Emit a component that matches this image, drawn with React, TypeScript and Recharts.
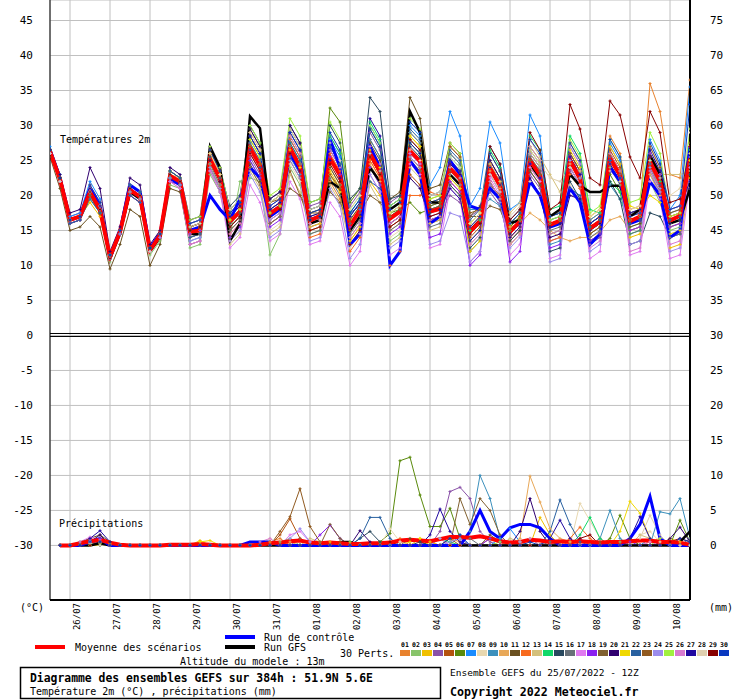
import React from "react";
import { LineChart, Line, XAxis, YAxis, CartesianGrid, ReferenceLine } from "recharts";

const MONO = "'DejaVu Sans Mono', monospace";

// forecast hours, run of 25/07/2022 12Z
const hours = [0, 6, 12, 18, 24, 30, 36, 42, 48, 54, 60, 66, 72, 78, 84, 90, 96, 102, 108, 114, 120, 126, 132, 138, 144, 150, 156, 162, 168, 174, 180, 186, 192, 198, 204, 210, 216, 222, 228, 234, 240, 246, 252, 258, 264, 270, 276, 282, 288, 294, 300, 306, 312, 318, 324, 330, 336, 342, 348, 354, 360, 366, 372, 378, 384];
const dayTicks = [12, 36, 60, 84, 108, 132, 156, 180, 204, 228, 252, 276, 300, 324, 348, 372];
const dayLabels = ["26/07", "27/07", "28/07", "29/07", "30/07", "31/07", "01/08", "02/08", "03/08", "04/08", "05/08", "06/08", "07/08", "08/08", "09/08", "10/08"];
const yTicks = [-30, -25, -20, -15, -10, -5, 0, 5, 10, 15, 20, 25, 30, 35, 40, 45];

const memberColors = ["#E8822E", "#88C46A", "#F0C000", "#8A52A8", "#B4520E", "#5A8A0C", "#1A8CFF", "#E8D8B0", "#3C90BC", "#E8A858", "#6A5020", "#F86A1E", "#D4C07C", "#10D868", "#28485E", "#687078", "#E07AF0", "#8A20F0", "#806030", "#300070", "#F0D800", "#2860A0", "#905A20", "#9C8CEC", "#A0F040", "#D87AD0", "#2008A0", "#E0D0B0", "#880000", "#0838C0"];

// 2m temperature (°C), one value per 6h step
const t01 = [26.5,22.5, 16.5,17,21.5,19, 11.5,15,21.5,20.5, 12.5,15,23.5,22.5, 15.5,16,26.5,23.5, 17.5,19,29,26.5, 18,19,27,24.5, 15,15.5,22,19.5, 13.5,15.5,25,22.5, 16,17,29,27.5, 19,19.5,27,25.5, 15,16.5,25,22.5, 14,15.5,25,23, 16,16.5,26,23.5, 16.5,17.5,28.5,26, 18,18.5,36,32, 23,22.5,36.5];
const t02 = [26,22, 16,16.5,19.5,17.5, 10.5,14.5,20,19, 11.5,13.5,21.5,21, 12.5,13,23,20.5, 14,22,22.5,22, 11.5,14.5,24,21.5, 14.5,15,24,21.5, 14,16,24,21.5, 13.5,14.5,25,23.5, 16,16.5,22.5,21, 13.5,15,23,20.5, 15,16.5,26,24, 17,17.5,24,21.5, 15,16,24,21.5, 15.5,16,22,19, 15,15.5,23];
const t03 = [26.5,22, 16.5,17,19,17, 11,14.5,20.5,19.5, 12,14,22.5,21.5, 15,15.5,24.5,21.5, 16.5,18,27,24.5, 19,20,28.5,26, 17.5,18,23.5,21, 16.5,18.5,22,20, 18,19,28.5,27, 19.5,20,25,23.5, 16,17.5,22,19.5, 15.5,17,27,25, 16.5,17,27.5,25, 16,17,24.5,22, 14,14.5,26,23, 12.5,13,22.5];
const t04 = [26,22.5, 17,17.5,21,18.5, 11.5,15,21,20, 12.5,14.5,22,21.5, 16,16.5,25.5,22.5, 18,19.5,25.5,23, 18.5,19.5,28,25.5, 18.5,19,28.5,26, 18.5,20.5,29,26.5, 19,20,25,23.5, 17,17.5,20,19, 17,18,20.5,18.5, 13,14.5,23,21, 13.5,14,23.5,21, 13,14,27,24.5, 17,17.5,25.5,22.5, 16,16.5,24];
const t05 = [26.5,22.5, 16,16.5,20,17.5, 11,14.5,20,19, 12,14,23,22, 14,14.5,26,23, 15,16.5,28.5,26, 16,17,26,23.5, 16,16.5,27,24.5, 15,17,28,25.5, 15.5,16.5,23,21.5, 16.5,17,26,24.5, 14,15.5,26,23.5, 13.5,15,24,22, 17,17.5,26,23.5, 16,17,26.5,24, 16,16.5,24,21, 17,17.5,27];
const t06 = [26.5,22.5, 16.5,17,21,18.5, 11.5,15,21,20, 12.5,14.5,23.5,22.5, 15.5,16,26.5,23.5, 17.5,19,29.5,27, 19,20,29.5,27, 18,18.5,32.5,30.5, 19,21,29.5,27, 17.5,18,19,17.5, 18,18.5,24,22.5, 15,16.5,24.5,22, 15.5,17,26.5,24.5, 14.5,15,24,21.5, 15.5,16.5,23,20.5, 15,15.5,24,21, 15.5,16,25];
const t07 = [27,23, 17,17.5,22,19.5, 11.5,15,21.5,20.5, 12.5,14.5,23,22, 16,16.5,25,22, 16,17.5,27.5,25, 17.5,18.5,28,25.5, 17,17.5,28,25.5, 16,18,30,27.5, 18.5,19.5,30,28.5, 21.5,24,32,28.5, 18.5,21,30.5,27.5, 18,19,31.5,28.5, 16.5,17,27,24.5, 15,16,27.5,25, 17.5,18,28,25, 18,20,35.5];
const t08 = [26,22, 16.5,17,20.5,18, 11,15,21,20, 12,14.5,22.5,22, 14.5,15,24.5,21.5, 13.5,15,24,21.5, 15,16,24.5,22, 15.5,16,24,21.5, 12.5,14.5,25.5,23, 14,15,27.5,26, 20,20.5,23,21.5, 16.5,18,24,21.5, 15,16.5,22,20, 16,16.5,21.5,19.5, 17,18,26,23.5, 16.5,17,27,24, 20,21,29];
const t09 = [26.5,22.5, 16.5,17,20,17.5, 11,14.5,20.5,19.5, 12,14.5,22.5,21.5, 13.5,14,23.5,20.5, 15.5,17,25,22.5, 16.5,17.5,25.5,23, 16.5,17,27,24.5, 17,19,28,25.5, 17,18,29,27.5, 18,18.5,26,24.5, 18,18,19.5,18.5, 16,17.5,24.5,22.5, 13,13.5,24,21.5, 16.5,17.5,21.5,19.5, 16,16.5,23,20.5, 17.5,18,21];
const t10 = [26,22, 16.5,17,20.5,18, 11,15,20.5,19.5, 12,14.5,23,22.5, 16,16.5,25.5,22.5, 17,18.5,26,23.5, 18,19,27,24.5, 16,16.5,23,20.5, 14,16,24.5,22, 15,16,25.5,24, 16,16.5,24.5,23, 14.5,16,23.5,21, 15.5,16,17.5,16.5, 15,14,13.5,14, 14,14.8,16.5,17, 15,15.5,23,20, 15.5,16,24.5];
const t11 = [25.5,21, 15,15.5,17,15.5, 9.5,13,18,17, 10,13,21,20.5, 13,13.5,24,21, 16,17.5,24.5,22, 17,18,25,22.5, 17.5,18,24,21.5, 16.5,18.5,27.5,25, 19.5,20.5,34,31, 21,21.5,27.5,26, 17,18.5,22,19.5, 16,17.5,25.5,23.5, 15.5,16,25.5,23, 14.5,15.5,24.5,22, 15.5,16,25,22, 16,16.5,26];
const t12 = [26.5,22.5, 16.5,17,20.5,18, 11.5,15,21,20, 12,14.5,23,22, 14.5,15,26,23, 14.5,16,27,24.5, 16,17,28,25.5, 14,14.5,26,23.5, 12,14,25,22.5, 10,12,20,20, 20.5,20,22,20.5, 15.5,17,24.5,22, 14,15.5,26,24, 13.5,14,23,21, 15,16,26,23.5, 16.5,17,25.5,22.5, 17,17.5,25];
const t13 = [26,22, 16,16.5,20,17.5, 11,14.5,20.5,19.5, 12,14,22.5,21.5, 14,14.5,24,21, 13,14.5,23.5,21, 14.5,15.5,23,20.5, 15,15.5,21.5,19, 13,15,21.5,19, 13,14,24,22.5, 15,15.5,21.5,20, 13,14.5,24.5,22, 17.5,19,28,25.5, 23,20.5,24.5,22.5, 17,18,25,22.5, 17,17.5,24.5,23, 23,23,23.5];
const t14 = [26.5,22.5, 16.5,17,20.5,18, 11,15,21,20, 12.5,14.5,23,22, 15,15.5,25,22, 16.5,18,28,25.5, 17.5,18.5,27.5,25, 16.5,17,28.5,26, 17.5,19.5,30.5,28, 17.5,18.5,27.5,26, 18.5,19,25.5,24, 15,16.5,26.5,24, 15,16.5,28.5,26.5, 18,18.5,28.5,26, 18,17.5,22,20.5, 14.5,15,25,22, 16,16.5,26.5];
const t15 = [26,22, 16,16.5,20,17.5, 11,14.5,20.5,19.5, 12,14.5,23,22, 15.5,16,25.5,22.5, 18.5,20,30,27.5, 19.5,20.5,30,27.5, 19,19.5,30,27.5, 19.5,21,34,32, 19.5,20,27,25.5, 17.5,18,21.5,20, 12.5,14,21.5,19, 13.5,15,23.5,21.5, 12,12.5,22,19.5, 13.5,14.5,22,19.5, 13,13.5,17.5,17, 14,14.5,23];
const t16 = [26.5,22.5, 16.5,17,20,17.5, 11,14.5,20.5,19.5, 12,14,22.5,21.5, 14,14.5,24.5,21.5, 15,16.5,27.5,25, 16,17,27,24.5, 14.5,15,22.5,20, 14.5,16.5,26,23.5, 15,16,28,26.5, 15.5,16,23,21.5, 12,13.5,25,22.5, 14.5,16,25.5,23.5, 15,15.5,26,23.5, 14,15,25.5,23, 14.5,15,23.5,20.5, 14,14.5,24];
const t17 = [26,22, 16.5,17,21,18.5, 11,15,21,20, 12,14,22,21, 13,13.5,23.5,20.5, 12.5,14,21.5,19, 13.5,14.5,22,19.5, 13,13.5,19,17, 10,12,23,20.5, 11.5,12.5,24.5,23, 12.5,13,21,19.5, 10.5,12,22.5,20, 11.5,13,24,22, 11,11.5,24,21.5, 11,12,25,22.5, 11.5,12,22,19.5, 11,11.5,22];
const t18 = [26,22, 16,16.5,20.5,18, 11,14.5,20,19, 12,14,22,21.5, 14.5,15,25,22, 14,15.5,25,22.5, 15.5,16.5,26,23.5, 15.5,16,25.5,23, 15.5,17.5,24,21.5, 14.5,15.5,26,24.5, 14,14.5,22,20.5, 10,11.5,23,20.5, 10.5,12,24.5,22.5, 12.5,13,25.5,23, 13.5,14.5,25,22.5, 15,15.5,26,23, 15.5,16,27];
const t19 = [26.5,22.5, 16.5,17,20,17.5, 11,14.5,20.5,19.5, 12,14.5,22.5,21.5, 15.5,16,24,21, 17,18.5,24,21.5, 17.5,18.5,21,20, 16.5,17,20.5,19, 16,17.5,20,19, 17,18,25.5,24, 18,18.5,23.5,22, 17,17,18.5,18, 14.5,16,23.5,21.5, 16,16.5,25,22.5, 15.5,16.5,26,23.5, 16.5,17,24,21, 16.5,17,25];
const t20 = [26.5,23, 17.5,18,24,21, 12,15.5,22.5,21.5, 13,15,24,23, 16.5,17,27,24, 18,19.5,29.5,27, 19.5,20.5,30,27.5, 17,17.5,26.5,24, 15,17,26,23.5, 16,17,22.5,21, 16.5,17,24.5,23, 14.5,16,25,22.5, 14.5,16,22.5,20, 14,14.5,20,19.5, 15,16,25,22.5, 16,16.5,25.5,22.5, 16,16.5,21];
const t21 = [26.5,22.5, 16.5,17,21,18.5, 11.5,15,21,20, 12.5,14.5,23,22, 15,15.5,26,23, 16.5,18,28,25.5, 17.5,18.5,26.5,24, 15.5,16,23,20.5, 13.5,15.5,26.5,24, 17.5,18.5,28.5,27, 19,19.5,22.5,21, 12,13.5,24,21.5, 13,14.5,26,24, 17,17.5,26.5,24, 17,18,27,24.5, 18.5,18,20,19, 14.5,15,25];
const t22 = [26,22, 16,16.5,19.5,17.5, 11,14.5,20,19, 12,14,22.5,21.5, 14,14.5,25,22, 17.5,19,26.5,24, 18,19,27.5,25, 18,18.5,27,24.5, 17.5,18.5,22,21, 18.5,19.5,29.5,28, 20,20.5,26.5,25, 16.5,18,27,24.5, 16.5,18,25,23, 17,17.5,21,20, 15.5,16.5,25,22.5, 16,16.5,24.5,21.5, 16.5,17,24.5];
const t23 = [26.5,22.5, 16.5,17,20.5,18, 11.5,15,21,20, 12.5,14.5,23.5,22.5, 15.5,16,26.5,23.5, 15.5,17,27,24.5, 19,19.5,23.5,20, 17.5,17.5,23,21, 15,17,25.5,23, 17,18,25,23.5, 18.5,19,27,25.5, 17.5,18,21.5,20, 15,16.5,25,23, 16,16.5,26,23.5, 14.5,15.5,26,23.5, 17.5,18,27,24, 17.5,18,27.5];
const t24 = [26,22, 16.5,17,20.5,18, 11,15,21,20, 12,14.5,22.5,21.5, 13.5,14,24,21, 13.5,15,23,20.5, 14,15,25,22.5, 13.5,14,21,18.5, 11,13,23,20.5, 12.5,13.5,25.5,24, 13,13.5,17.5,17, 10.5,12,21.5,19, 12.5,14,26,24, 10.5,11,25,22.5, 12,13,24.5,22, 13,13.5,24,21, 12,12.5,25.5];
const t25 = [26.5,22.5, 16.5,17,21,18.5, 11.5,15,21.5,20.5, 12.5,14.5,23.5,22.5, 16.5,17,27,24, 18,19.5,30,27.5, 20,21,31,28.5, 19,19.5,30.5,28, 18,20,30,27.5, 18.5,19.5,31,29.5, 19.5,20,27.5,26, 16,17.5,26,23.5, 16,17.5,27,25, 16.5,17,28,25.5, 17.5,18.5,28,25.5, 19,19.5,29,26, 17,17.5,29.5];
const t26 = [26,22, 16.5,17,21,18.5, 11,14.5,20.5,19.5, 12,14,22,21, 13,13.5,23.5,20.5, 14.5,16,26,23.5, 16.5,17.5,28.5,26, 16,16.5,26.5,24, 14,16,27,24.5, 16,17,26,24.5, 16.5,17,24,22.5, 13,14.5,22,19.5, 13,14.5,27,25, 14.5,15,27,24.5, 12.5,13.5,26,23.5, 12,12.5,23.5,20.5, 13,13.5,24];
const t27 = [26.5,22.5, 16.5,17,21,18.5, 11.5,15,21,20, 12.5,14.5,23,22, 15,15.5,25,22, 17,18.5,28.5,26, 18,19,29,26.5, 16.5,17,25,22.5, 17,19,31,28.5, 18,19,27.5,26, 18,18,21,19.5, 13.5,15,24,21.5, 14,15.5,24.5,22.5, 15.5,16,25.5,23, 16,17,24.5,22, 17.5,18,26.5,23.5, 18,18.5,22];
const t28 = [26,22, 16.5,17,20.5,18, 11,15,21,20, 12,14.5,23,22, 15.5,16,26,23, 18,19.5,29,26.5, 19,20,29.5,27, 18,18.5,27.5,25, 18,20,26,23.5, 17.5,18.5,26.5,25, 20,20.5,25.5,24, 16,17.5,23,20.5, 17,18.5,26.5,24.5, 22.5,22,24,23.5, 17,18,23.5,22, 18,18.5,25,22.5, 18,18.5,26];
const t29 = [26.5,22.5, 16.5,17,20.5,18, 11,15,21,20, 12.5,14.5,23,22, 15,15.5,25,22, 15.5,17,26,23.5, 17,18,26,23.5, 15,15.5,24.5,22, 13,15,25.5,23, 15.5,16.5,28,26.5, 17,17.5,25,23.5, 14.5,16,27,24.5, 16.5,18,29,26.5, 18,19,33,29.5, 22.5,21.5,33.5,31.5, 25.5,22.5,32,29, 19,19.5,27];
const t30 = [26.5,22.5, 16.5,17,21.5,19, 11.5,15,21.5,20.5, 12.5,14.5,23.5,22.5, 16,16.5,26.5,23.5, 17.5,19,28.5,26, 18.5,19.5,29,26.5, 17.5,18,29,26.5, 17.5,19.5,29.5,27, 18,19,30.5,29, 19,19.5,25,23.5, 15.5,17,26,23.5, 16,17.5,28,26, 17,17.5,27.5,25, 16,17,28,25.5, 17,17.5,27.5,24.5, 18,18.5,33];
const tControl = [26.5,22.5, 16.5,17,21,18.5, 11,15,21.5,20.5, 12.5,14.5,22.5,21.5, 15,15.5,20,18, 16.5,19.5,24,22.5, 17,18,26,23.5, 16.5,17,28,24, 13,14.5,27,24, 10,12,25,23, 16,17,25,23, 18.5,18,21,19.5, 15,16,22,20, 15.5,16,21,19, 13,14.5,24,22, 16,16.5,22,20, 14,15,27];
const tGfs = [26.5,22.5, 16.5,17,20.5,18, 11,14.5,20.5,19.5, 12,14,22.5,22, 14.5,14.5,27,24, 13.5,16,31.3,29.6, 17.5,18.5,26,24, 16,16.5,22,21, 15,17,24,22, 18,19,32,29, 19,19,23,21.5, 15,16.5,24,21.5, 16,16.5,24.5,22.5, 17,18,23,21.4, 20.5,20.5,21.4,21.4, 17,18,25.7,23, 16,16.5,21];
const tMean = [26.3,22.3, 16.5,17.0,20.5,18.0, 11.2,14.8,20.8,19.8, 12.2,14.3,22.8,22.0, 14.8,15.0,25.2,22.4, 16.3,17.7,26.8,24.3, 17.4,18.4,26.8,24.1, 16.4,17.1,25.3,22.9, 15.7,17.9,26.0,23.4, 16.7,17.7,26.4,24.9, 17.7,18.1,23.9,22.4, 14.8,16.3,23.9,21.4, 14.8,16.3,25.0,22.9, 15.8,16.4,25.0,22.4, 15.3,16.3,25.3,22.9, 16.3,17.0,24.8,22.0, 16.4,17.1,25.3];

// 6h precipitation (mm), from +6h to +384h
const p01 = [0,0,0,.5,1,0,0,0, 0,0,0,0,0,0,0,0, 0,0,0,0,0,.5,1,0, 0,0,0,0,0,0,0,0, 0,0,0,0,0,.5,0,1, .5,0,0,0,0,0,0,0, 0,0,0,.5,0,0,1,0, 0,0,0,.5,1,0,0,0];
const p02 = [0,0,0,.3,.5,0,0,0, 0,0,0,0,0,0,0,0, 0,0,0,0,0,0,.5,1, 0,0,0,0,0,0,0,0, .5,0,0,0,0,0,1,0, 0,0,0,0,0,0,.5,1, 0,0,0,0,0,0,0,0, .5,0,0,0,0,0,0,0];
const p03 = [0,0,0,0,.5,.3,0,0, 0,0,0,0,0,0,.7,0, 0,0,0,0,0,0,0,0, 0,0,0,.5,0,0,0,0, 0,0,0,0,1,.5,0,0, 0,0,0,0,0,0,0,0, 4,1.5,0,0,0,0,0,0, 0,0,0,0,0,1,.5,0];
const p04 = [0,0,0,1,.5,0,0,0, 0,0,0,0,0,0,0,0, 0,0,0,0,0,0,0,0, 1,0,0,0,0,0,0,0, 0,0,0,0,0,0,2,7.7, 8.3,6.7,2,.5,0,0,0,0, 0,0,0,0,1,0,0,0, 0,0,0,0,0,0,0,0];
const p05 = [0,0,0,0,1,0,0,0, 0,0,0,0,0,0,0,0, 0,0,0,0,0,0,1.5,3.8, 1,0,0,0,.5,0,0,0, 0,0,0,0,0,0,0,0, 0,0,0,1,.5,0,0,0, 0,0,0,0,0,0,0,0, 0,1,0,0,0,0,0,0];
const p06 = [0,0,0,0,.5,0,0,0, 0,0,0,0,0,0,0,0, 0,0,0,0,0,0,0,0, 0,0,0,0,0,0,0,0, .5,1.7,12.1,12.6,7.2,2.7,2.7,5.3, 1,0,0,0,0,0,0,0, 0,0,0,0,0,0,0,1, 4.3,1,0,0,0,0,3.6,.5];
const p07 = [0,0,0,.5,0,0,0,0, 0,0,0,0,0,0,0,0, 0,0,0,0,0,0,0,0, 0,0,0,0,0,0,0,0, 0,0,0,0,0,0,0,0, 0,0,0,0,1,2.4,.5,0, 0,0,0,0,0,0,0,0, 0,0,0,1,0,0,0,0];
const p08 = [0,0,0,0,0,0,0,0, 0,0,0,0,0,0,0,0, 0,0,0,0,0,1,0,0, 0,0,0,0,0,0,0,0, 0,2.4,.5,0,0,0,0,0, 0,0,0,0,0,0,0,0, 0,0,0,0,6,3.5,1,0, 0,0,1.5,2,.5,0,0,0];
const p09 = [0,0,0,0,.5,0,0,0, 0,0,0,0,0,0,0,0, 0,0,0,0,0,0,0,0, 0,0,0,0,0,0,0,0, 0,0,0,0,0,0,0,0, 0,2,10,6.7,1,0,0,0, 0,0,0,0,0,0,1,5, 1,0,0,0,4.8,4.5,6.7,1];
const p10 = [0,0,0,.5,0,0,0,0, 0,0,0,0,0,0,0,0, 0,0,0,0,0,0,0,.5, 0,0,0,0,0,0,0,0, 0,0,0,0,0,0,0,0, 0,0,0,0,0,0,1,9.9, 6.2,2.4,1,.5,0,0,0,0, 0,0,0,0,0,0,0,0];
const p11 = [0,0,.5,1,1.5,.5,0,0, 0,0,0,0,0,0,0,0, 0,0,0,0,0,0,0,0, 0,0,0,0,0,0,0,0, 0,0,0,1,.5,0,0,0, 0,0,0,1.5,.5,0,0,0, 0,0,0,0,0,0,0,0, 0,0,0,0,0,0,0,0];
const p12 = [0,0,0,0,.3,0,0,0, 0,0,0,0,0,0,0,0, 0,0,0,0,0,.5,0,0, 0,0,0,0,0,0,0,0, 0,0,1,0,0,0,0,0, 0,0,0,0,0,0,0,0, 0,0,0,1,2.6,1,0,0, 0,0,0,0,0,0,0,0];
const p13 = [0,0,0,.5,0,0,0,0, 0,0,0,0,0,0,0,0, 0,0,0,0,0,0,0,0, 0,1,.5,0,0,0,0,0, 0,0,0,0,0,0,0,0, 0,0,0,0,0,1,.5,0, 0,0,0,0,0,0,0,0, 0,0,1.5,1,0,0,0,0];
const p14 = [0,0,0,0,.5,0,0,0, 0,0,0,0,0,0,0,0, 0,0,0,0,0,0,0,0, 0,0,0,0,0,0,0,0, 0,0,0,0,0,0,1,.5, 0,0,0,0,0,0,0,0, 0,0,0,0,1.5,4,1,0, 0,0,0,0,0,0,0,0];
const p15 = [0,0,0,.7,1,0,0,0, 0,0,0,0,0,0,0,0, 0,0,0,0,0,0,0,0, 0,0,0,0,0,0,1,2, .5,0,0,0,.5,0,0,0, 0,0,0,0,0,0,0,0, 0,0,0,0,0,0,0,0, 0,0,0,0,0,0,0,0];
const p16 = [0,0,0,0,.5,0,0,0, 0,0,0,0,0,0,0,0, 0,0,0,0,0,0,0,0, 0,0,0,0,0,0,0,0, 0,0,0,0,0,0,0,0, 1.5,1,0,0,0,0,0,0, 0,.5,0,0,0,0,0,0, 0,0,0,0,0,0,0,1];
const p17 = [0,0,.5,1.2,.8,0,0,0, 0,0,0,0,0,0,0,0, 0,0,0,0,0,0,0,1.5, 2,.5,0,0,0,0,0,0, 0,0,0,0,0,0,1,0, 0,0,0,0,0,0,0,0, 0,0,0,0,0,0,0,0, 0,0,0,.5,0,0,0,0];
const p18 = [0,0,0,.5,1,0,0,0, 0,0,0,0,0,0,0,0, 0,0,0,0,0,0,0,0, 0,0,1.5,2.9,1,0,0,0, 0,0,0,0,0,0,0,0, 0,0,0,1,.5,0,0,0, 0,0,0,0,0,0,0,0, 0,.5,0,0,0,0,0,0];
const p19 = [0,0,0,.5,0,0,0,0, 0,0,0,0,0,0,0,0, 0,0,0,0,0,0,0,0, 0,0,0,3,1,0,0,0, 0,0,0,0,0,0,0,0, 6.7,3,6.7,5,1.5,0,0,0, 0,0,0,0,0,0,0,0, 0,0,0,0,0,0,0,0];
const p20 = [0,0,0,.5,1.5,0,0,0, 0,0,0,0,0,0,0,0, 0,0,0,0,0,0,0,0, 0,0,0,0,0,0,2.1,.5, 0,0,0,0,0,0,0,0, 0,0,0,0,0,0,2,6.7, 2,0,0,0,0,0,0,0, 0,0,0,0,0,1,2.6,.5];
const p21 = [0,0,0,0,0,0,0,0, 0,0,0,0,0,0,.5,.7, 0,0,0,0,0,0,0,0, 0,0,0,0,0,0,0,0, 0,0,0,.5,1,0,0,0, 0,0,0,0,0,0,0,0, 0,0,0,0,0,0,0,0, 2,6.3,4.6,1,0,0,0,0];
const p22 = [0,0,0,.5,0,0,0,0, 0,0,0,0,0,0,0,0, 0,0,0,0,0,0,0,0, 0,0,0,0,0,0,1,4, 4,1,0,0,0,0,0,0, 0,0,0,0,0,0,0,0, 0,2,6.5,3,.5,0,0,0, 0,0,0,0,0,0,0,0];
const p23 = [0,0,0,0,.5,0,0,0, 0,0,0,0,0,0,0,0, 0,0,0,0,0,0,2,4.1, 8.1,2.7,.5,0,0,0,0,0, 0,0,0,0,0,0,0,1, 0,0,0,0,0,0,0,0, 0,0,0,0,0,0,.5,0, 0,0,0,0,0,0,0,0];
const p24 = [0,0,0,.8,.5,0,0,0, 0,0,0,0,0,0,0,0, 0,0,0,0,0,0,0,1, 2.4,.5,0,0,0,0,0,0, 0,0,0,0,0,0,0,.5, 1,0,0,0,0,0,0,0, 0,0,0,0,0,0,0,0, 0,0,0,0,0,0,0,0];
const p25 = [0,0,0,0,.3,0,0,0, 0,0,0,0,0,0,0,0, 0,0,0,0,0,0,0,0, 0,0,0,0,0,.5,0,0, 0,0,0,0,0,0,0,0, 0,0,0,0,.5,0,0,0, 0,0,0,0,0,0,0,0, 0,0,0,0,1,0,0,0];
const p26 = [0,0,0,.5,.5,0,0,0, 0,0,0,0,0,0,0,0, 0,0,0,0,.5,1,0,0, 0,0,0,0,0,0,0,0, 0,0,0,0,0,0,0,0, 0,0,0,0,0,0,.5,1, 0,0,0,0,0,0,0,0, 0,0,0,0,0,0,0,.5];
const p27 = [0,0,0,1,2.1,.5,0,0, 0,0,0,0,0,0,0,0, 0,0,0,0,0,0,0,0, 0,0,0,0,0,0,0,0, 0,0,0,0,0,1.5,5.2,2, .5,0,0,0,0,0,0,0, 0,1,3.6,1,0,0,0,0, 0,1,4.1,1,0,0,0,0];
const p28 = [0,0,0,.3,0,0,0,0, 0,0,0,0,0,0,0,0, 0,0,0,0,0,0,0,0, 0,0,0,0,0,0,0,0, 0,0,.5,0,0,0,0,0, 0,0,0,0,0,0,0,0, 0,0,0,0,0,0,0,0, 0,0,1,4.3,1.5,0,0,0];
const p29 = [0,0,0,0,.5,0,0,0, 0,0,0,0,0,0,0,0, 0,0,0,0,0,0,0,0, 0,0,0,0,0,0,0,0, 0,.5,0,0,0,0,0,0, 0,0,0,0,0,0,0,0, 0,0,0,0,1,1.5,0,0, 0,0,0,0,0,.5,1,.5];
const p30 = [0,0,0,.5,.5,0,0,0, 0,0,0,0,0,0,0,0, 0,0,0,0,0,0,0,0, 0,0,0,0,0,0,0,0, 0,0,0,0,0,0,0,1, 1.5,0,0,0,0,0,0,.5, 0,0,0,0,0,0,0,0, 0,0,0,0,0,0,1,.5];
const pControl = [0,0,0,.5,1,0,0,0, 0,0,0,0,0,0,0,0, 0,0,0,.5,.5,.5,0,0, 0,0,0,0,0,0,0,0, 0,0,0,0,0,0,0,0, 0,2,5,2,1,2.5,3,3, 2.5,1,0,0,0,0,0,0, 0,1,3,7,1,0,0,0];
const pGfs = [0,0,0,0,.3,0,0,0, 0,0,0,0,0,0,0,0, 0,0,0,0,0,0,0,0, 0,0,0,0,.5,.5,0,0, 0,0,0,0,0,0,0,0, 0,0,0,0,0,0,0,0, 0,0,0,0,0,0,0,0, 0,0,0,0,0,0,.5,2];
const pMean = [0,0,.3,.6,.8,.4,.1,0, 0,0,0,.1,.1,.1,.2,.1, 0,0,0,0,.1,.3,.4,.6, .7,.4,.3,.4,.3,.2,.2,.3, .3,.4,.7,.8,.7,.6,.9,1.2, 1.2,1.1,1.3,1.0,.6,.4,.5,.8, .7,.5,.6,.5,.6,.5,.4,.5, .5,.6,.7,.7,.5,.5,.4,.1];

const temps = [t01, t02, t03, t04, t05, t06, t07, t08, t09, t10, t11, t12, t13, t14, t15, t16, t17, t18, t19, t20, t21, t22, t23, t24, t25, t26, t27, t28, t29, t30];
const precs = [p01, p02, p03, p04, p05, p06, p07, p08, p09, p10, p11, p12, p13, p14, p15, p16, p17, p18, p19, p20, p21, p22, p23, p24, p25, p26, p27, p28, p29, p30];

// precipitation shares the temperature axis: 0 mm sits on -30
const PR0 = -30;
const pr = (s: number[], i: number) => (i === 0 ? null : PR0 + s[i - 1]);

const rows = hours.map((h, i) => {
  const r: Record<string, number | null> = { h };
  temps.forEach((s, k) => (r[`t${k}`] = s[i]));
  precs.forEach((s, k) => (r[`p${k}`] = pr(s, i)));
  r.tc = tControl[i];
  r.tg = tGfs[i];
  r.tm = tMean[i];
  r.pc = pr(pControl, i);
  r.pg = pr(pGfs, i);
  r.pm = pr(pMean, i);
  return r;
});

const Y_MIN = -37.8;
const Y_MAX = 47.93;

const cross = (props: any) => {
  const { cx, cy, stroke, index } = props;
  if (cx == null || cy == null || Number.isNaN(cy)) return <g key={`c${index}`} />;
  return (
    <path key={`c${index}`} d={`M${cx - 1.5},${cy}h3M${cx},${cy - 1.5}v3`} stroke={stroke} strokeWidth={1} fill="none" />
  );
};

const DateTick = (props: any) => {
  const { x, payload } = props;
  const label = dayLabels[dayTicks.indexOf(payload.value)];
  return (
    <text transform={`translate(${x + 9.5},603) rotate(-90)`} textAnchor="end" fontFamily={MONO} fontSize={9} fill="#000">
      {label}
    </text>
  );
};

const txt = { fontFamily: MONO, fill: "#000" };

const App = () => {
  return (
    <div style={{ position: "absolute", left: 0, top: 0, width: 740, height: 700, background: "#fff" }}>
      <LineChart width={740} height={640} data={rows} margin={{ top: 0, right: 0, bottom: 0, left: 0 }}>
        <CartesianGrid stroke="#C0C0C0" strokeWidth={1} />
        <XAxis
          dataKey="h"
          type="number"
          domain={[0, 384]}
          ticks={dayTicks}
          interval={0}
          tick={DateTick}
          tickLine={false}
          axisLine={{ stroke: "#000", strokeWidth: 2 }}
          height={40}
          allowDataOverflow
        />
        <YAxis
          type="number"
          domain={[Y_MIN, Y_MAX]}
          ticks={yTicks}
          interval={0}
          width={50}
          tickSize={0}
          tickMargin={17}
          tickLine={false}
          axisLine={{ stroke: "#000", strokeWidth: 1 }}
          tick={{ ...txt, fontSize: 11 }}
          allowDataOverflow
        />
        <YAxis
          yAxisId="r"
          orientation="right"
          type="number"
          domain={[Y_MIN, Y_MAX]}
          ticks={yTicks}
          interval={0}
          width={50}
          tickSize={0}
          tickMargin={20}
          tickLine={false}
          axisLine={{ stroke: "#000", strokeWidth: 2 }}
          tick={{ ...txt, fontSize: 11 }}
          tickFormatter={(v: number) => String(v + 30)}
          allowDataOverflow
        />
        <ReferenceLine y={0.28} stroke="#000" strokeWidth={1} />
        <ReferenceLine y={-0.15} stroke="#000" strokeWidth={1} />
        {memberColors.map((c, k) => (
          <Line key={`t${k}`} dataKey={`t${k}`} stroke={c} strokeWidth={1} dot={cross} activeDot={false} isAnimationActive={false} />
        ))}
        {memberColors.map((c, k) => (
          <Line key={`p${k}`} dataKey={`p${k}`} stroke={c} strokeWidth={1} dot={cross} activeDot={false} isAnimationActive={false} />
        ))}
        <Line dataKey="pg" stroke="#000" strokeWidth={2.5} dot={false} activeDot={false} isAnimationActive={false} />
        <Line dataKey="tg" stroke="#000" strokeWidth={2.5} dot={false} activeDot={false} isAnimationActive={false} />
        <Line dataKey="pc" stroke="#0000FF" strokeWidth={3} dot={false} activeDot={false} isAnimationActive={false} />
        <Line dataKey="tc" stroke="#0000FF" strokeWidth={3} dot={false} activeDot={false} isAnimationActive={false} />
        <Line dataKey="pm" stroke="#FF0000" strokeWidth={4} dot={false} activeDot={false} isAnimationActive={false} />
        <Line dataKey="tm" stroke="#FF0000" strokeWidth={4} dot={false} activeDot={false} isAnimationActive={false} />
      </LineChart>

      <svg width={740} height={700} style={{ position: "absolute", left: 0, top: 0, pointerEvents: "none" }}>
        <text x={60} y={143} fontSize={10} {...txt}>Températures 2m</text>
        <text x={59} y={527} fontSize={10} {...txt}>Précipitations</text>
        <text x={20} y={611} fontSize={10} {...txt}>(°C)</text>
        <text x={709} y={611} fontSize={10} {...txt}>(mm)</text>

        <rect x={35} y={645} width={30} height={4} fill="#FF0000" />
        <text x={75} y={651} fontSize={10} {...txt}>Moyenne des scénarios</text>
        <rect x={225} y={635} width={30} height={4} fill="#0000FF" />
        <text x={264} y={641} fontSize={10} {...txt}>Run de contrôle</text>
        <rect x={225} y={645} width={30} height={4} fill="#000" />
        <text x={264} y={651} fontSize={10} {...txt}>Run GFS</text>
        <text x={340} y={657} fontSize={10} {...txt}>30 Perts.</text>
        <text x={180} y={665} fontSize={10} {...txt}>Altitude du modele : 13m</text>

        {memberColors.map((c, k) => (
          <g key={`lg${k}`}>
            <text x={405 + 11 * k} y={647} fontSize={6.5} fontWeight="bold" textAnchor="middle" {...txt}>
              {String(k + 1).padStart(2, "0")}
            </text>
            <rect x={400 + 11 * k} y={650} width={10} height={6} fill={c} />
          </g>
        ))}

        <rect x={20.5} y={667.5} width={420} height={31} fill="none" stroke="#000" strokeWidth={1.5} />
        <text x={30} y={682} fontSize={11.4} fontWeight="bold" {...txt}>Diagramme des ensembles GEFS sur 384h : 51.9N 5.6E</text>
        <text x={30} y={695} fontSize={10} {...txt}>Température 2m (°C) , précipitations (mm)</text>
        <text x={450} y={676} fontSize={9.5} {...txt}>Ensemble GEFS du 25/07/2022 - 12Z</text>
        <text x={450} y={696} fontSize={11.6} fontWeight="bold" {...txt}>Copyright 2022 Meteociel.fr</text>
      </svg>
    </div>
  );
};

export default App;
